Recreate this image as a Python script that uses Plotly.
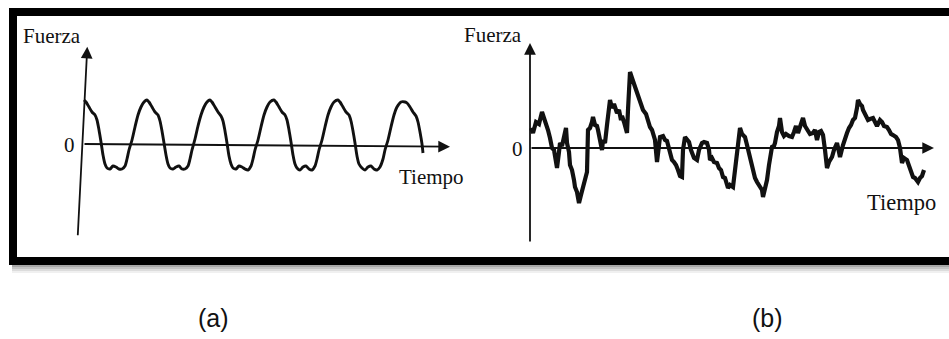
import plotly.graph_objects as go

# ---- panel (a): periodic force (time in ms, force in arbitrary units) ----
time_a = [
    1, 3, 6, 9, 12, 14, 16, 18, 20, 22, 24, 27, 30, 33, 36, 39, 42, 44, 46, 49, 52, 55, 58, 61,
    64, 66, 69, 72, 75, 77, 79, 81, 83, 85, 87, 90, 93, 96, 99, 102, 105, 107, 109, 112, 115, 118, 121, 124,
    127, 129, 132, 135, 138, 140, 142, 144, 146, 148, 150, 153, 156, 159, 162, 165, 168, 170, 172, 175, 178, 181, 184, 187,
    191, 193, 196, 199, 202, 204, 206, 208, 210, 212, 214, 217, 220, 223, 226, 229, 232, 234, 236, 239, 242, 245, 248, 251,
    255, 257, 260, 263, 266, 268, 270, 272, 274, 276, 279, 282, 285, 288, 291, 294, 297, 300, 302, 305, 308, 311, 314, 318,
    322, 324, 327, 330, 333, 335, 337, 339, 340,
]
force_a = [
    44, 42, 37, 32, 29, 24, 14, 2, -11, -20, -24, -25, -22, -23, -25, -25, -22, -15, -6, 4, 17, 29, 37, 42,
    44, 42, 37, 32, 29, 23, 13, 1, -11, -20, -24, -25, -23, -22, -25, -25, -22, -15, -6, 5, 18, 29, 37, 42,
    44, 42, 37, 32, 28, 23, 13, 1, -12, -20, -24, -25, -22, -23, -25, -26, -22, -15, -6, 4, 17, 29, 37, 42,
    44, 42, 37, 32, 29, 24, 14, 2, -11, -20, -24, -26, -23, -22, -25, -26, -22, -15, -6, 4, 17, 29, 37, 42,
    44, 42, 37, 32, 29, 23, 13, 1, -12, -20, -24, -26, -23, -22, -25, -26, -23, -15, -6, 4, 17, 29, 37, 42,
    42, 41, 37, 32, 28, 22, 12, 0, -9,
]

# ---- panel (b): irregular force ----
time_b = [
    1, 3, 6, 9, 12, 14, 16, 18, 20, 22, 24, 26, 27, 29, 30, 32, 34, 36, 37, 39,
    40, 42, 44, 45, 47, 49, 51, 53, 55, 57, 58, 60, 62, 63, 65, 67, 68, 70, 72, 73,
    75, 77, 80, 82, 84, 87, 89, 91, 92, 94, 96, 97, 98, 100, 102, 104, 107, 109, 111, 113,
    116, 118, 120, 122, 125, 127, 128, 130, 133, 135, 137, 139, 142, 144, 146, 148, 150, 152, 153, 155,
    157, 159, 161, 164, 167, 169, 172, 174, 177, 179, 180, 182, 184, 187, 189, 191, 193, 195, 198, 200,
    203, 205, 207, 210, 212, 215, 217, 220, 222, 225, 227, 230, 232, 233, 235, 237, 239, 242, 244, 245,
    247, 249, 250, 252, 254, 256, 259, 262, 264, 266, 268, 270, 273, 275, 278, 280, 283, 285, 287, 289,
    291, 293, 295, 297, 299, 302, 304, 307, 309, 310, 313, 315, 317, 319, 321, 323, 325, 327, 328, 330,
    332, 333, 336, 338, 340, 343, 345, 347, 350, 352, 354, 357, 359, 361, 363, 366, 368, 370, 372, 374,
    377, 379, 381, 383, 385, 388, 390, 392, 394,
]
force_b = [
    20, 15, 26, 24, 36, 30, 26, 18, 10, 0, -2, -12, -20, -4, 5, 2, 10, 20, 5, -4,
    -17, -22, -32, -39, -44, -55, -47, -39, -34, -24, 18, 20, 26, 31, 23, 22, 18, 8, -2, 8,
    5, 23, 48, 40, 44, 35, 38, 28, 32, 26, 20, 15, 38, 76, 70, 64, 58, 52, 44, 38,
    34, 26, 21, 18, 8, -14, -2, 11, 12, 8, 7, -2, -12, -14, -17, -22, -28, -29, -2, 11,
    8, 6, -2, -10, -12, -2, 5, 6, 5, -2, -12, -10, -14, -15, -20, -22, -29, -30, -40, -37,
    -39, -22, -2, 20, 14, 11, 3, -9, -20, -30, -34, -39, -42, -49, -40, -32, -17, 1, 2, 5,
    16, 22, 30, 16, 12, 14, 12, 11, 16, 22, 15, 20, 30, 22, 18, 14, 15, 18, 8, 16,
    17, 13, -2, -20, -14, -9, -2, 5, -4, -9, 3, 10, 15, 20, 23, 28, 30, 40, 48, 44,
    42, 38, 32, 28, 29, 30, 26, 22, 28, 26, 22, 21, 18, 14, 13, 11, 8, 0, -15, -10,
    -12, -18, -22, -29, -30, -34, -30, -28, -22,
]

axis_labels = {"force": "Fuerza", "time": "Tiempo", "zero": "0"}
panel_tags = ["(a)", "(b)"]

W, H = 949, 339
INK = "#111111"
SERIF = "Liberation Serif, Times New Roman, serif"
SANS = "Liberation Sans, Arial, sans-serif"

fig = go.Figure()

fig.add_trace(go.Scatter(
    x=time_a, y=force_a, mode="lines", xaxis="x", yaxis="y",
    line=dict(color=INK, width=2.9, shape="spline", smoothing=0.7),
    hoverinfo="skip", showlegend=False,
))
fig.add_trace(go.Scatter(
    x=time_b, y=force_b, mode="lines", xaxis="x2", yaxis="y2",
    line=dict(color=INK, width=4.2),
    hoverinfo="skip", showlegend=False,
))

split = 474.5 / W
hidden = dict(visible=False, fixedrange=True)
fig.update_layout(
    width=W, height=H,
    margin=dict(l=0, r=0, t=0, b=0, pad=0),
    paper_bgcolor="white", plot_bgcolor="rgba(0,0,0,0)",
    xaxis=dict(domain=[0, split], range=[-83, 391.5], **hidden),
    yaxis=dict(domain=[0, 1], range=[-195, 144], **hidden),
    xaxis2=dict(domain=[split, 1], range=[-55.5, 419], anchor="y2", **hidden),
    yaxis2=dict(domain=[0, 1], range=[-191, 148], anchor="x2", **hidden),
)


def arrow(xref, yref, tail, tip):
    fig.add_annotation(
        x=tip[0], y=tip[1], ax=tail[0], ay=tail[1],
        xref=xref, yref=yref, axref=xref, ayref=yref,
        text="", showarrow=True, arrowhead=2, arrowsize=1.3,
        arrowwidth=1.8, arrowcolor=INK, standoff=0, startstandoff=0,
    )


# coordinate axes drawn as arrows
arrow("x", "y", (-5.3, -92.7), (4.3, 97.3))
arrow("x", "y", (0, 0), (367, -2.7))
arrow("x2", "y2", (0, -95), (0, 105))
arrow("x2", "y2", (0, 0), (404, 0))


def label(text, px, py, size, family=SERIF, xanchor="center"):
    fig.add_annotation(
        x=px / W, y=1 - py / H, xref="paper", yref="paper",
        text=text, showarrow=False, xanchor=xanchor, yanchor="middle",
        font=dict(family=family, size=size, color=INK),
    )


label(axis_labels["force"], 52, 36, 21)
label(axis_labels["zero"], 69, 145, 21)
label(axis_labels["time"], 397, 177, 21, xanchor="left")
label(axis_labels["force"], 493, 35, 21)
label(axis_labels["zero"], 517, 149, 21)
label(axis_labels["time"], 865, 202, 22.5, xanchor="left")
label(panel_tags[0], 213, 318, 25, family=SANS)
label(panel_tags[1], 767, 318, 25, family=SANS)

# soft drop shadow under the frame
for i, op in enumerate([0.45, 0.3, 0.18, 0.08]):
    y0 = 265 + 2 * i
    fig.add_shape(type="rect", xref="paper", yref="paper",
                  x0=12 / W, x1=1.02, y0=1 - (y0 + 2) / H, y1=1 - y0 / H,
                  line=dict(width=0), fillcolor=f"rgba(60,60,60,{op})", layer="below")

# thick black frame around both panels
fig.add_shape(type="rect", xref="paper", yref="paper",
              x0=13 / W, x1=1.05, y0=1 - 261 / H, y1=1 - 12 / H,
              line=dict(color="black", width=8), fillcolor="rgba(0,0,0,0)")

fig.write_html("out.html")
